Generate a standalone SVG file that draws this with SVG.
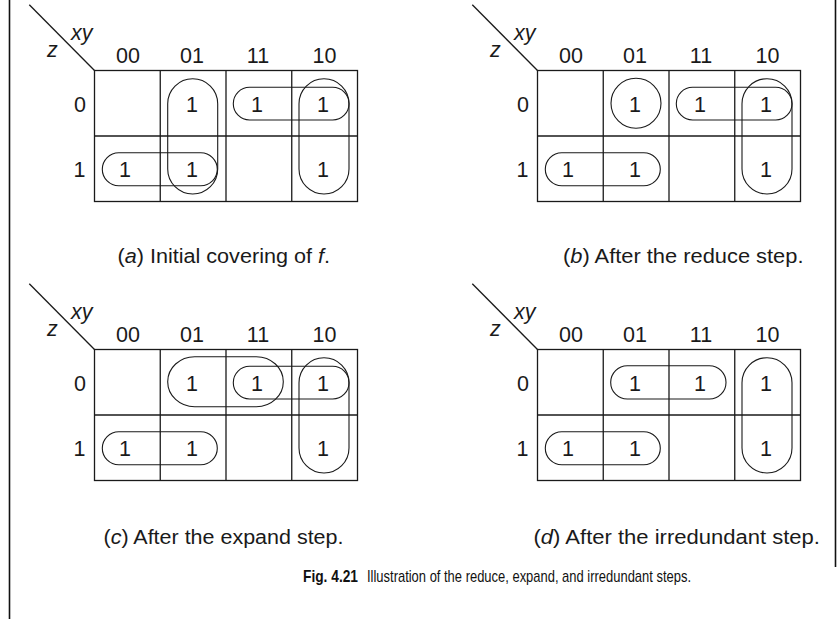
<svg xmlns="http://www.w3.org/2000/svg" width="837" height="619" viewBox="0 0 837 619">
<style>
  .bg{fill:#ffffff}
  .grid{fill:none;stroke:#1a1a1a;stroke-width:1.3}
  .loop{fill:none;stroke:#1a1a1a;stroke-width:1.1}
  .border{stroke:#111;stroke-width:1.6}
  .t{font-family:"Liberation Sans",Arial,Helvetica,sans-serif;font-size:21.5px;fill:#1a1a1a}
  .c{text-anchor:middle}
  .i{font-style:italic}
  .cap{font-family:"Liberation Sans",Arial,Helvetica,sans-serif;font-size:20px;fill:#1a1a1a}
  .fig{font-family:"Liberation Sans",Arial,sans-serif;font-size:17px;fill:#111}
</style>
<rect class="bg" x="0" y="0" width="837" height="619"/>
<line class="border" x1="9.5" y1="0" x2="9.5" y2="619"/>
<line class="border" x1="835.5" y1="0" x2="835.5" y2="567"/>

<!-- Map (a) -->
<g id="map-a">
  <g class="grid-lines">
    <line class="grid" x1="29.3" y1="4.7" x2="94.5" y2="70.5"/>
    <rect class="grid" x="94.5" y="70.5" width="263" height="131"/>
    <line class="grid" x1="94.5" y1="136" x2="357.5" y2="136"/>
    <line class="grid" x1="160.25" y1="70.5" x2="160.25" y2="201.5"/>
    <line class="grid" x1="226" y1="70.5" x2="226" y2="201.5"/>
    <line class="grid" x1="291.75" y1="70.5" x2="291.75" y2="201.5"/>
  </g>
  <text class="t i" x="71" y="39.5">xy</text>
  <text class="t i" x="47" y="56.5">z</text>
  <text class="t c" x="128" y="63">00</text>
  <text class="t c" x="192" y="63">01</text>
  <text class="t c" x="258" y="63">11</text>
  <text class="t c" x="324.5" y="63">10</text>
  <text class="t c" x="80" y="112">0</text>
  <text class="t c" x="79.5" y="177">1</text>
  <text class="t c" x="192" y="112">1</text>
  <text class="t c" x="257" y="112">1</text>
  <text class="t c" x="323" y="112">1</text>
  <text class="t c" x="125" y="177">1</text>
  <text class="t c" x="192" y="177">1</text>
  <text class="t c" x="323" y="177">1</text>
  <g id="a-loops">
    <rect id="a-loop-col01" class="loop" x="167.7" y="78.7" width="50" height="115.3" rx="25"/>
    <rect id="a-loop-row1" class="loop" x="102.3" y="152.7" width="115" height="33" rx="16.5"/>
    <rect id="a-loop-row0" class="loop" x="233.3" y="87.3" width="115.7" height="32.7" rx="16.3"/>
    <rect id="a-loop-col10" class="loop" x="299" y="78.7" width="50" height="115.3" rx="25"/>
  </g>
</g>

<!-- Map (b) -->
<g id="map-b" transform="translate(443,0)">
  <g class="grid-lines">
    <line class="grid" x1="29.3" y1="4.7" x2="94.5" y2="70.5"/>
    <rect class="grid" x="94.5" y="70.5" width="263" height="131"/>
    <line class="grid" x1="94.5" y1="136" x2="357.5" y2="136"/>
    <line class="grid" x1="160.25" y1="70.5" x2="160.25" y2="201.5"/>
    <line class="grid" x1="226" y1="70.5" x2="226" y2="201.5"/>
    <line class="grid" x1="291.75" y1="70.5" x2="291.75" y2="201.5"/>
  </g>
  <text class="t i" x="71" y="39.5">xy</text>
  <text class="t i" x="47" y="56.5">z</text>
  <text class="t c" x="128" y="63">00</text>
  <text class="t c" x="192" y="63">01</text>
  <text class="t c" x="258" y="63">11</text>
  <text class="t c" x="324.5" y="63">10</text>
  <text class="t c" x="80" y="112">0</text>
  <text class="t c" x="79.5" y="177">1</text>
  <text class="t c" x="192" y="112">1</text>
  <text class="t c" x="257" y="112">1</text>
  <text class="t c" x="323" y="112">1</text>
  <text class="t c" x="125" y="177">1</text>
  <text class="t c" x="192" y="177">1</text>
  <text class="t c" x="323" y="177">1</text>
  <g id="b-loops">
    <circle id="b-loop-cell01" class="loop" cx="193" cy="103.3" r="25"/>
    <rect id="b-loop-row1" class="loop" x="102.3" y="152.7" width="115" height="33" rx="16.5"/>
    <rect id="b-loop-row0" class="loop" x="233.3" y="87.3" width="115.7" height="32.7" rx="16.3"/>
    <rect id="b-loop-col10" class="loop" x="299" y="78.7" width="50" height="115.3" rx="25"/>
  </g>
</g>

<!-- Map (c) -->
<g id="map-c" transform="translate(0,279)">
  <g class="grid-lines">
    <line class="grid" x1="29.3" y1="4.7" x2="94.5" y2="70.5"/>
    <rect class="grid" x="94.5" y="70.5" width="263" height="131"/>
    <line class="grid" x1="94.5" y1="136" x2="357.5" y2="136"/>
    <line class="grid" x1="160.25" y1="70.5" x2="160.25" y2="201.5"/>
    <line class="grid" x1="226" y1="70.5" x2="226" y2="201.5"/>
    <line class="grid" x1="291.75" y1="70.5" x2="291.75" y2="201.5"/>
  </g>
  <text class="t i" x="71" y="39.5">xy</text>
  <text class="t i" x="47" y="56.5">z</text>
  <text class="t c" x="128" y="63">00</text>
  <text class="t c" x="192" y="63">01</text>
  <text class="t c" x="258" y="63">11</text>
  <text class="t c" x="324.5" y="63">10</text>
  <text class="t c" x="80" y="112">0</text>
  <text class="t c" x="79.5" y="177">1</text>
  <text class="t c" x="192" y="112">1</text>
  <text class="t c" x="257" y="112">1</text>
  <text class="t c" x="323" y="112">1</text>
  <text class="t c" x="125" y="177">1</text>
  <text class="t c" x="192" y="177">1</text>
  <text class="t c" x="323" y="177">1</text>
  <g id="c-loops">
    <rect id="c-loop-row0-wide" class="loop" x="167.7" y="77.7" width="115.6" height="50" rx="27" ry="25"/>
    <rect id="c-loop-row1" class="loop" x="102.3" y="152.7" width="115" height="33" rx="16.5"/>
    <rect id="c-loop-row0" class="loop" x="233.3" y="87.3" width="115.7" height="32.7" rx="16.3"/>
    <rect id="c-loop-col10" class="loop" x="299" y="78.7" width="50" height="115.3" rx="25"/>
  </g>
</g>

<!-- Map (d) -->
<g id="map-d" transform="translate(443,279)">
  <g class="grid-lines">
    <line class="grid" x1="29.3" y1="4.7" x2="94.5" y2="70.5"/>
    <rect class="grid" x="94.5" y="70.5" width="263" height="131"/>
    <line class="grid" x1="94.5" y1="136" x2="357.5" y2="136"/>
    <line class="grid" x1="160.25" y1="70.5" x2="160.25" y2="201.5"/>
    <line class="grid" x1="226" y1="70.5" x2="226" y2="201.5"/>
    <line class="grid" x1="291.75" y1="70.5" x2="291.75" y2="201.5"/>
  </g>
  <text class="t i" x="71" y="39.5">xy</text>
  <text class="t i" x="47" y="56.5">z</text>
  <text class="t c" x="128" y="63">00</text>
  <text class="t c" x="192" y="63">01</text>
  <text class="t c" x="258" y="63">11</text>
  <text class="t c" x="324.5" y="63">10</text>
  <text class="t c" x="80" y="112">0</text>
  <text class="t c" x="79.5" y="177">1</text>
  <text class="t c" x="192" y="112">1</text>
  <text class="t c" x="257" y="112">1</text>
  <text class="t c" x="323" y="112">1</text>
  <text class="t c" x="125" y="177">1</text>
  <text class="t c" x="192" y="177">1</text>
  <text class="t c" x="323" y="177">1</text>
  <g id="d-loops">
    <rect id="d-loop-row0" class="loop" x="167.7" y="86.7" width="115.3" height="33.3" rx="16.6"/>
    <rect id="d-loop-row1" class="loop" x="102.3" y="152.7" width="115" height="33" rx="16.5"/>
    <rect id="d-loop-col10" class="loop" x="299" y="78.7" width="50" height="115.3" rx="25"/>
  </g>
</g>

<g id="connectors"></g>

<!-- Captions -->
<text class="cap" x="117.5" y="263" textLength="212.5" lengthAdjust="spacingAndGlyphs">(<tspan font-style="italic">a</tspan>) Initial covering of <tspan font-style="italic">f</tspan>.</text>
<text class="cap" x="563" y="263" textLength="240.5" lengthAdjust="spacingAndGlyphs">(<tspan font-style="italic">b</tspan>) After the reduce step.</text>
<text class="cap" x="103.5" y="543.5" textLength="240" lengthAdjust="spacingAndGlyphs">(<tspan font-style="italic">c</tspan>) After the expand step.</text>
<text class="cap" x="533.5" y="543.5" textLength="286.5" lengthAdjust="spacingAndGlyphs">(<tspan font-style="italic">d</tspan>) After the irredundant step.</text>
<text class="fig" x="303" y="582" font-weight="bold" textLength="55" lengthAdjust="spacingAndGlyphs">Fig. 4.21</text>
<text class="fig" x="367" y="582" textLength="324" lengthAdjust="spacingAndGlyphs">Illustration of the reduce, expand, and irredundant steps.</text>
</svg>
